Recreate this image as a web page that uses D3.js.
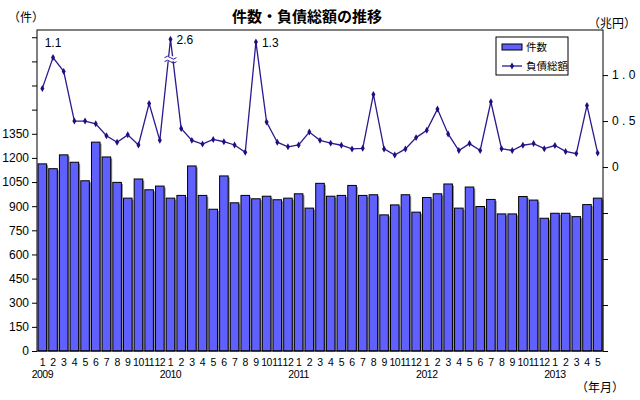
<!DOCTYPE html>
<html><head><meta charset="utf-8">
<script src="https://cdn.jsdelivr.net/npm/d3@7"></script>
<style>body{margin:0;background:#fff}text{font-family:"Liberation Sans","Noto Sans CJK JP",sans-serif}</style>
</head><body><svg id="c" width="640" height="400"></svg>
<script>
const months=["1","2","3","4","5","6","7","8","9","10","11","12"];
const years=["2009","2010","2011","2012","2013"];
const counts=[1163,1133,1219,1173,1058,1298,1206,1048,950,1069,1002,1025,
950,967,1150,967,881,1088,921,967,946,962,940,950,
977,888,1042,962,967,1029,967,971,846,908,971,863,
954,977,1038,888,1019,898,942,852,852,960,938,825,
856,856,835,910,950];
// debt as plotted (peaks truncated: actual labels shown separately)
const debt=[0.855,1.19,1.04,0.50,0.50,0.47,0.34,0.27,0.35,0.24,0.69,0.29,
1.39,0.42,0.29,0.25,0.30,0.275,0.24,0.16,1.36,0.49,0.27,0.22,
0.24,0.38,0.29,0.26,0.237,0.197,0.204,0.79,0.197,0.13,0.197,0.32,
0.40,0.63,0.36,0.18,0.255,0.18,0.71,0.20,0.18,0.237,0.255,0.20,
0.234,0.17,0.146,0.67,0.153];
const peakLabels=[{i:1,t:"1.1"},{i:12,t:"2.6"},{i:20,t:"1.3"}];
const leftTicks=[0,150,300,450,600,750,900,1050,1200,1350,1500,1650,1800,1950];
const rightTicks=[-2,-1.5,-1,-0.5,0,0.5,1.0];

const svg=d3.select("#c");
const L=37,R=603,T=30,B=351;
const labels=counts.map((d,i)=>i);
const x=d3.scaleBand().domain(labels).range([L,R]).paddingInner(0.2).paddingOuter(0.1);
const y=d3.scaleLinear().domain([0,1995]).range([B,T]);
const y2=d3.scaleLinear().domain([-2,1.49]).range([B,T]);

svg.append("text").attr("x",307).attr("y",22).attr("text-anchor","middle").attr("font-size",15).attr("font-weight","bold").text("件数・負債総額の推移");
svg.append("text").attr("x",26).attr("y",22).attr("text-anchor","middle").attr("font-size",12).text("（件）");
svg.append("text").attr("x",612).attr("y",28).attr("text-anchor","middle").attr("font-size",12).text("（兆円）");

// bars with shadow
const bw=x.bandwidth();
svg.selectAll(".sh").data(counts).join("rect").attr("x",(d,i)=>x(i)+1.5).attr("y",d=>y(d)+1.5).attr("width",bw).attr("height",d=>B-y(d)-1.5).attr("fill","#888");
svg.selectAll(".bar").data(counts).join("rect").attr("x",(d,i)=>x(i)).attr("y",d=>y(d)).attr("width",bw).attr("height",d=>B-y(d)).attr("fill","#6060ff").attr("stroke","#000").attr("stroke-width",1);

// frame
svg.append("rect").attr("x",L).attr("y",T).attr("width",R-L).attr("height",B-T).attr("fill","none").attr("stroke","#000");

// left axis
const la=svg.append("g").attr("transform",`translate(${L},0)`).call(d3.axisLeft(y).tickValues(leftTicks).tickSize(5).tickFormat(d=>d<=1350?d:""));
la.select(".domain").remove();
la.selectAll("text").attr("font-size",12).attr("fill","#000").attr("font-family","Liberation Sans");
// right axis
const ra=svg.append("g").attr("transform",`translate(${R},0)`).call(d3.axisRight(y2).tickValues(rightTicks).tickSize(5).tickFormat(d=>d<0?"":(d===0?"0":d3.format(".1f")(d).replace("."," . "))));
ra.select(".domain").remove();
ra.selectAll("text").attr("font-size",12).attr("fill","#000").attr("x",9).style("white-space","pre");

// x labels
const cx=i=>x(i)+bw/2;
svg.selectAll(".ml").data(counts).join("text").attr("x",(d,i)=>cx(i)).attr("y",366).attr("text-anchor","middle").attr("font-size",10.5).attr("letter-spacing",-0.5).text((d,i)=>months[i%12]);
svg.selectAll(".yl").data(years).join("text").attr("x",(d,k)=>cx(k*12)).attr("y",378).attr("text-anchor","middle").attr("font-size",10.5).attr("letter-spacing",-0.5).text(d=>d);
svg.append("text").attr("x",600).attr("y",392).attr("text-anchor","middle").attr("font-size",12).text("（年月）");

// line
const line=d3.line().x((d,i)=>cx(i)).y(d=>y2(d));
svg.append("path").datum(debt).attr("d",line).attr("fill","none").attr("stroke","#2a1a8c").attr("stroke-width",1.3);
svg.selectAll(".pt").data(debt).join("path").attr("transform",(d,i)=>`translate(${cx(i)},${y2(d)})`).attr("d",d3.symbol(d3.symbolDiamond,14)).attr("fill","#1e0f80");
svg.selectAll(".pl").data(peakLabels).join("text").attr("x",d=>cx(d.i)+(d.i===1?0:6)).attr("y",d=>d.i===1?y2(debt[d.i])-11:y2(debt[d.i])+5).attr("text-anchor",d=>d.i===1?"middle":"start").attr("font-size",12).text(d=>d.t);
// break mark on 2010/1
const bx=cx(12), by=y2(debt[12])+20;
svg.append("rect").attr("x",bx-6).attr("y",by-3).attr("width",12).attr("height",5).attr("fill","#fff");
[-2.5,1.5].forEach(o=>svg.append("path").attr("d",`M${bx-6},${by+o+1} q3,-3 6,0 q3,3 6,0`).attr("fill","none").attr("stroke","#2a1a8c"));

// legend
const lg=svg.append("g");
lg.append("rect").attr("x",496).attr("y",37).attr("width",72).attr("height",38).attr("fill","#fff").attr("stroke","#000");
lg.append("rect").attr("x",502).attr("y",44).attr("width",20).attr("height",6).attr("fill","#6060ff").attr("stroke","#000");
lg.append("text").attr("x",526).attr("y",51).attr("font-size",10.5).text("件数");
lg.append("line").attr("x1",502).attr("x2",522).attr("y1",66).attr("y2",66).attr("stroke","#2a1a8c").attr("stroke-width",1.3);
lg.append("path").attr("transform","translate(512,66)").attr("d",d3.symbol(d3.symbolDiamond,14)).attr("fill","#1e0f80");
lg.append("text").attr("x",526).attr("y",70).attr("font-size",10.5).text("負債総額");
</script></body></html>
